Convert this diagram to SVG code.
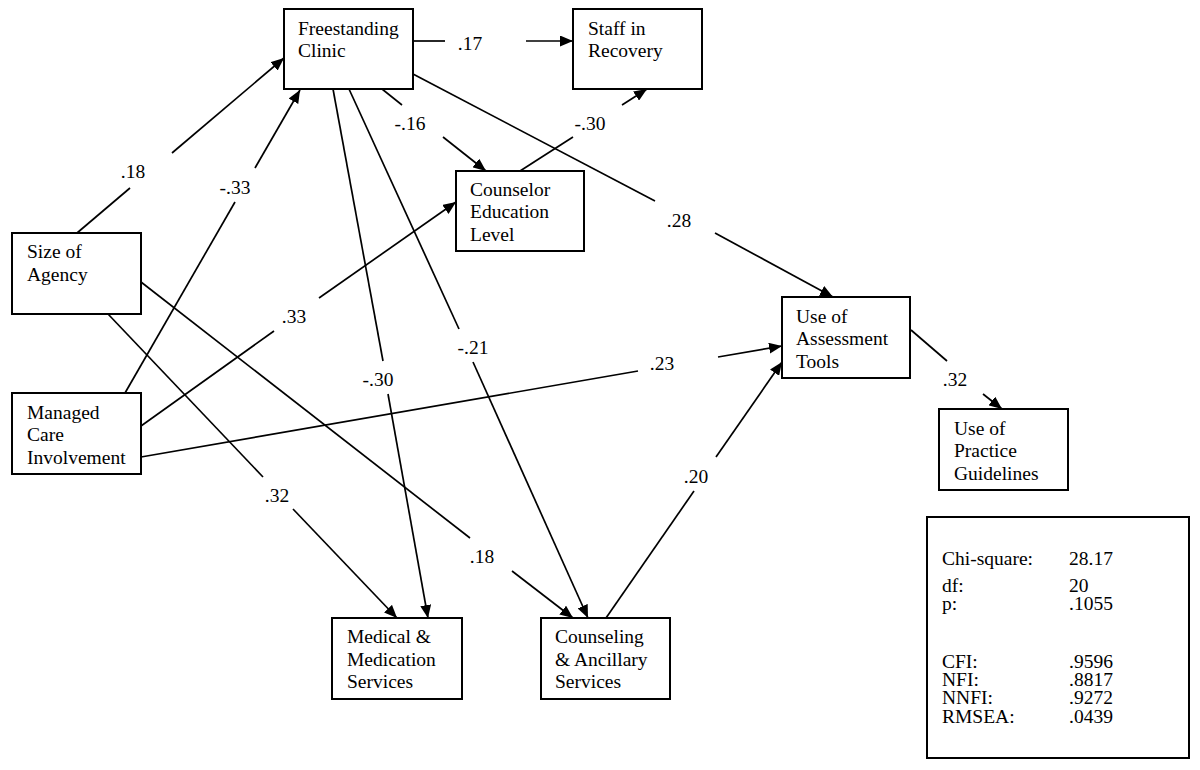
<svg xmlns="http://www.w3.org/2000/svg" width="1200" height="770" viewBox="0 0 1200 770">
<style>
text{font-family:"Liberation Serif","Times New Roman",serif;font-size:19.5px;fill:#000}
.box{fill:#fff;stroke:#000;stroke-width:2}
.e{stroke:#000;stroke-width:1.7;fill:none}
.lbl{text-anchor:middle}
</style>
<defs>
<marker id="ah" markerUnits="userSpaceOnUse" markerWidth="13" markerHeight="11" refX="13" refY="5.5" orient="auto">
<path d="M0,0 L13,5.5 L0,11 z" fill="#000"/>
</marker>
</defs>
<rect width="1200" height="770" fill="#fff"/>
<g id="connectors">
<line class="e" x1="77" y1="233" x2="130" y2="188"/><line class="e" x1="172" y1="153" x2="284" y2="58" marker-end="url(#ah)"/>
<line class="e" x1="125" y1="393" x2="235" y2="202"/><line class="e" x1="255" y1="168" x2="300" y2="90" marker-end="url(#ah)"/>
<line class="e" x1="413" y1="41" x2="445" y2="41"/><line class="e" x1="526" y1="41" x2="573" y2="41" marker-end="url(#ah)"/>
<line class="e" x1="382" y1="89" x2="402" y2="105"/><line class="e" x1="443" y1="137" x2="486" y2="171" marker-end="url(#ah)"/>
<line class="e" x1="520" y1="171" x2="573" y2="137"/><line class="e" x1="622" y1="105" x2="647" y2="89" marker-end="url(#ah)"/>
<line class="e" x1="413" y1="74" x2="655" y2="201"/><line class="e" x1="715" y1="233" x2="833" y2="297" marker-end="url(#ah)"/>
<line class="e" x1="141" y1="426" x2="274" y2="331"/><line class="e" x1="319" y1="298" x2="456" y2="202" marker-end="url(#ah)"/>
<line class="e" x1="141" y1="457" x2="638" y2="371"/><line class="e" x1="718" y1="357" x2="782" y2="346" marker-end="url(#ah)"/>
<line class="e" x1="606" y1="618" x2="694" y2="491"/><line class="e" x1="716" y1="457" x2="782" y2="362" marker-end="url(#ah)"/>
<line class="e" x1="911" y1="330" x2="947" y2="361"/><line class="e" x1="983" y1="394" x2="1002" y2="409" marker-end="url(#ah)"/>
<line class="e" x1="108" y1="314" x2="263" y2="477"/><line class="e" x1="293" y1="509" x2="397" y2="618" marker-end="url(#ah)"/>
<line class="e" x1="141" y1="282" x2="470" y2="538"/><line class="e" x1="512" y1="571" x2="573" y2="618" marker-end="url(#ah)"/>
<line class="e" x1="333" y1="89" x2="383" y2="361"/><line class="e" x1="388" y1="394" x2="428" y2="618" marker-end="url(#ah)"/>
<line class="e" x1="349" y1="89" x2="459" y2="329"/><line class="e" x1="473" y1="362" x2="588" y2="618" marker-end="url(#ah)"/>
<text class="lbl" x="133" y="178">.18</text>
<text class="lbl" x="235" y="194">-.33</text>
<text class="lbl" x="470" y="50">.17</text>
<text class="lbl" x="410" y="130">-.16</text>
<text class="lbl" x="590" y="130">-.30</text>
<text class="lbl" x="679" y="227">.28</text>
<text class="lbl" x="294" y="323">.33</text>
<text class="lbl" x="662" y="370">.23</text>
<text class="lbl" x="696" y="483">.20</text>
<text class="lbl" x="955" y="386">.32</text>
<text class="lbl" x="277" y="502">.32</text>
<text class="lbl" x="482" y="563">.18</text>
<text class="lbl" x="378" y="386">-.30</text>
<text class="lbl" x="473" y="354">-.21</text>
</g>
<g id="freestanding">
<rect class="box" x="284" y="9" width="129" height="80"/>
<text x="298" y="35">Freestanding</text><text x="298" y="57">Clinic</text>
</g>
<g id="staff">
<rect class="box" x="573" y="9" width="129" height="80"/>
<text x="588" y="35">Staff in</text><text x="588" y="57">Recovery</text>
</g>
<g id="counselor">
<rect class="box" x="456" y="171" width="128" height="80"/>
<text x="470" y="196">Counselor</text><text x="470" y="218">Education</text><text x="470" y="241">Level</text>
</g>
<g id="size">
<rect class="box" x="12" y="233" width="129" height="81"/>
<text x="27" y="258">Size of</text><text x="27" y="281">Agency</text>
</g>
<g id="managed">
<rect class="box" x="12" y="393" width="129" height="81"/>
<text x="27" y="419">Managed</text><text x="27" y="441">Care</text><text x="27" y="464">Involvement</text>
</g>
<g id="assessment">
<rect class="box" x="782" y="297" width="128" height="81"/>
<text x="796" y="323">Use of</text><text x="796" y="345">Assessment</text><text x="796" y="368">Tools</text>
</g>
<g id="guidelines">
<rect class="box" x="939" y="409" width="129" height="81"/>
<text x="954" y="435">Use of</text><text x="954" y="457">Practice</text><text x="954" y="480">Guidelines</text>
</g>
<g id="medical">
<rect class="box" x="332" y="618" width="130" height="81"/>
<text x="347" y="643">Medical &amp;</text><text x="347" y="666">Medication</text><text x="347" y="688">Services</text>
</g>
<g id="counseling">
<rect class="box" x="541" y="618" width="129" height="81"/>
<text x="555" y="643">Counseling</text><text x="555" y="666">&amp; Ancillary</text><text x="555" y="688">Services</text>
</g>
<g id="stats">
<rect class="box" x="927" y="517" width="262" height="241"/>
<text x="942" y="565">Chi-square:</text><text x="1069" y="565">28.17</text>
<text x="942" y="592">df:</text><text x="1069" y="592">20</text>
<text x="942" y="610">p:</text><text x="1069" y="610">.1055</text>
<text x="942" y="668">CFI:</text><text x="1069" y="668">.9596</text>
<text x="942" y="686">NFI:</text><text x="1069" y="686">.8817</text>
<text x="942" y="704">NNFI:</text><text x="1069" y="704">.9272</text>
<text x="942" y="723">RMSEA:</text><text x="1069" y="723">.0439</text>
</g>
</svg>
